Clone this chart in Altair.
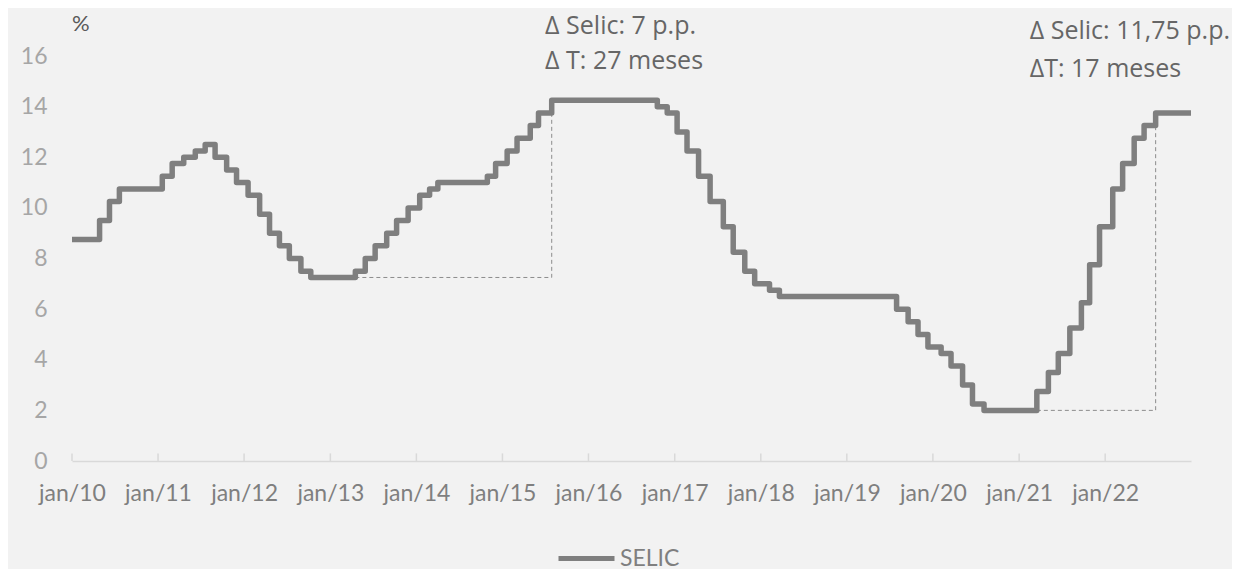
import altair as alt
import pandas as pd

# ---- data -------------------------------------------------------------
change_dates = [
    "2010-01-01", "2010-04-28", "2010-06-09", "2010-07-21",
    "2011-01-19", "2011-03-02", "2011-04-20", "2011-06-08", "2011-07-20",
    "2011-08-31", "2011-10-19", "2011-11-30",
    "2012-01-18", "2012-03-07", "2012-04-18", "2012-05-30", "2012-07-11",
    "2012-08-29", "2012-10-10",
    "2013-04-17", "2013-05-29", "2013-07-10", "2013-08-28", "2013-10-09",
    "2013-11-27",
    "2014-01-15", "2014-02-26", "2014-04-02", "2014-10-29", "2014-12-03",
    "2015-01-21", "2015-03-04", "2015-04-29", "2015-06-03", "2015-07-29",
    "2016-10-19", "2016-11-30",
    "2017-01-11", "2017-02-22", "2017-04-12", "2017-05-31", "2017-07-26",
    "2017-09-06", "2017-10-25", "2017-12-06",
    "2018-02-07", "2018-03-21",
    "2019-07-31", "2019-09-18", "2019-10-30", "2019-12-11",
    "2020-02-05", "2020-03-18", "2020-05-06", "2020-06-17", "2020-08-05",
    "2021-03-17", "2021-05-05", "2021-06-16", "2021-08-04", "2021-09-22",
    "2021-10-27", "2021-12-08",
    "2022-02-02", "2022-03-16", "2022-05-04", "2022-06-15", "2022-08-03",
    "2022-12-31",
]
selic_values = [
    8.75, 9.50, 10.25, 10.75,
    11.25, 11.75, 12.00, 12.25, 12.50,
    12.00, 11.50, 11.00,
    10.50, 9.75, 9.00, 8.50, 8.00,
    7.50, 7.25,
    7.50, 8.00, 8.50, 9.00, 9.50,
    10.00,
    10.50, 10.75, 11.00, 11.25, 11.75,
    12.25, 12.75, 13.25, 13.75, 14.25,
    14.00, 13.75,
    13.00, 12.25, 11.25, 10.25, 9.25,
    8.25, 7.50, 7.00,
    6.75, 6.50,
    6.00, 5.50, 5.00, 4.50,
    4.25, 3.75, 3.00, 2.25, 2.00,
    2.75, 3.50, 4.25, 5.25, 6.25,
    7.75, 9.25,
    10.75, 11.75, 12.75, 13.25, 13.75,
    13.75,
]
series_name = "SELIC"

tick_years = list(range(2010, 2023))
y_ticks = [0, 2, 4, 6, 8, 10, 12, 14, 16]

# dashed guides for the two tightening cycles
guide_group = ["c1", "c1", "c1", "c2", "c2", "c2"]
guide_order = [0, 1, 2, 0, 1, 2]
guide_dates = ["2013-04-17", "2015-07-29", "2015-07-29",
               "2021-03-17", "2022-08-03", "2022-08-03"]
guide_values = [7.25, 7.25, 13.75, 2.0, 2.0, 13.25]

# annotations
ann_dates = ["2015-07-01", "2015-07-01", "2021-02-15", "2021-02-15"]
ann_values = [17.2, 15.8, 17.0, 15.5]
ann_texts = ["\u0394 Selic: 7 p.p.", "\u0394 T: 27 meses",
             "\u0394 Selic: 11,75 p.p.", "\u0394T: 17 meses"]

unit_date = ["2010-01-01"]
unit_value = [17.0]
unit_text = ["%"]

# ---- tables -----------------------------------------------------------
df = pd.DataFrame({"date": change_dates, "selic": selic_values,
                   "serie": [series_name] * len(change_dates)})
guides = pd.DataFrame({"grp": guide_group, "ord": guide_order,
                       "date": guide_dates, "v": guide_values})
ann = pd.DataFrame({"date": ann_dates, "v": ann_values, "t": ann_texts})
ticks = pd.DataFrame({"date": [f"{y}-01-01" for y in tick_years],
                      "y0": [0.0] * len(tick_years),
                      "y1": [0.3] * len(tick_years)})
unit = pd.DataFrame({"date": unit_date, "v": unit_value, "t": unit_text})

LABEL_FONT = "Lato"
x_scale = alt.Scale(type="utc",
                    domain=[alt.DateTime(year=2010, month=1, date=1, utc=True),
                            alt.DateTime(year=2022, month=12, date=31, utc=True)])
y_scale = alt.Scale(domain=[0, 16], nice=False)

x_axis = alt.Axis(
    values=[alt.DateTime(year=y, month=1, date=1, utc=True) for y in tick_years],
    labelExpr="'jan/' + utcFormat(datum.value, '%y')",
    ticks=False, grid=False, domain=True, domainColor="#d9d9d9",
    domainWidth=1.5, labelFont=LABEL_FONT, labelFontSize=23,
    labelColor="#7f7f7f", labelPadding=21, title=None, labelFlush=False,
    labelOverlap=False,
)
y_axis = alt.Axis(values=y_ticks, ticks=False, grid=False, domain=False,
                  labelFont=LABEL_FONT, labelFontSize=23, labelColor="#a6a6a6",
                  labelPadding=25, title=None)

base_x = alt.X("date:T", scale=x_scale, axis=x_axis)

line = alt.Chart(df).mark_line(
    interpolate="step-after", strokeWidth=5.5, strokeJoin="round"
).encode(
    x=base_x,
    y=alt.Y("selic:Q", scale=y_scale, axis=y_axis),
    color=alt.Color(
        "serie:N",
        scale=alt.Scale(domain=[series_name], range=["#7f7f7f"]),
        legend=alt.Legend(
            title=None, orient="none", legendX=484, legendY=472,
            symbolType="stroke", symbolSize=3136, symbolStrokeWidth=5,
            labelFont=LABEL_FONT, labelFontSize=23, labelColor="#7f7f7f",
            labelOffset=3,
        ),
    ),
)

tick_rules = alt.Chart(ticks).mark_rule(color="#d9d9d9", strokeWidth=1.5).encode(
    x=alt.X("date:T", scale=x_scale),
    y=alt.Y("y0:Q", scale=y_scale),
    y2="y1:Q",
)

guide_lines = alt.Chart(guides).mark_line(
    color="#8c8c8c", strokeWidth=1, strokeDash=[4, 3]
).encode(
    x=alt.X("date:T", scale=x_scale),
    y=alt.Y("v:Q", scale=y_scale),
    detail="grp:N",
    order="ord:Q",
)

ann_text = alt.Chart(ann).mark_text(
    align="left", baseline="middle", font="Open Sans", fontSize=25,
    color="#666666"
).encode(
    x=alt.X("date:T", scale=x_scale),
    y=alt.Y("v:Q", scale=y_scale),
    text="t:N",
)

unit_mark = alt.Chart(unit).mark_text(
    align="left", baseline="alphabetic", font=LABEL_FONT, fontSize=22,
    color="#595959"
).encode(
    x=alt.X("date:T", scale=x_scale),
    y=alt.Y("v:Q", scale=y_scale),
    text="t:N",
)

chart = alt.layer(tick_rules, guide_lines, line, ann_text, unit_mark).properties(
    width=1119, height=405,
    padding={"left": 64, "top": 48, "right": 41, "bottom": 108},
    autosize=alt.AutoSizeParams(type="none"),
    background="#f2f2f2",
).configure_view(stroke=None)

chart.save("out.html", embed_options={"renderer": "svg", "actions": False})
